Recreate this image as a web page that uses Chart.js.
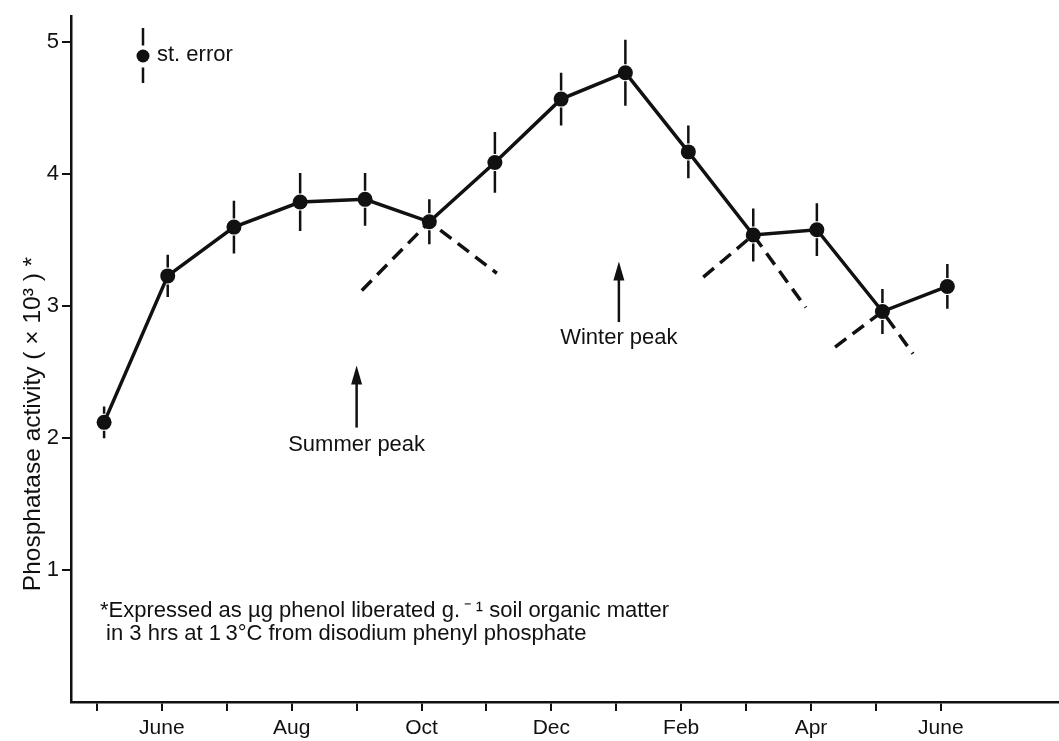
<!DOCTYPE html>
<html>
<head>
<meta charset="utf-8">
<script src="https://cdn.jsdelivr.net/npm/chart.js@4/dist/chart.umd.min.js"></script>
<style>
  html, body { margin: 0; padding: 0; background: #fff; overflow: hidden; }
  #wrap { width: 1059px; height: 741px; position: relative; }
  canvas { display: block; }
</style>
</head>
<body>
<div id="wrap"><canvas id="chart"></canvas></div>
<script>
// Month axis: 0 = May of the first year, 1 = June, ... 13 = June of the next year
const monthTickLabels = ['', 'June', '', 'Aug', '', 'Oct', '', 'Dec', '', 'Feb', '', 'Apr', '', 'June'];
const yTickValues = [1, 2, 3, 4, 5];

// Sampling dates (in months) and mean phosphatase activity with its standard error
const samplingMonth = [0.11, 1.09, 2.11, 3.13, 4.13, 5.12, 6.13, 7.15, 8.14, 9.11, 10.11, 11.09, 12.10, 13.10];
const activity      = [2.12, 3.23, 3.60, 3.79, 3.81, 3.64, 4.09, 4.57, 4.77, 4.17, 3.54, 3.58, 2.96, 3.15];
const stError       = [0.12, 0.16, 0.20, 0.22, 0.20, 0.17, 0.23, 0.20, 0.25, 0.20, 0.20, 0.20, 0.17, 0.17];

// Dashed trend breaks: index of the sample at the vertex, plus the two free ends
const breakVertex = [5, 10, 12];
const breakLeft   = [[4.08, 3.12], [9.34, 3.22], [11.37, 2.69]];
const breakRight  = [[6.16, 3.25], [10.92, 2.99], [12.57, 2.64]];

// Peak markers: label, month, arrow tail and head values, label value
const peakLabels = ['Summer peak', 'Winter peak'];
const peakMonth  = [4.00, 8.04];
const peakTail   = [2.08, 2.88];
const peakHead   = [2.55, 3.34];
const peakText   = [1.95, 2.76];

const yTitle = 'Phosphatase activity ( \u00d7 10\u00b3 ) *';
const footnote = [
  '*Expressed as \u00b5g phenol liberated g.\u2009\u207b\u2009\u00b9 soil organic matter',
  ' in 3 hrs at 1\u20093\u00b0C from disodium phenyl phosphate'
];

const INK = '#111';
const FONT = "'Liberation Sans', Arial, Helvetica, sans-serif";
const DOT = 7.5;

const seriesPoints = samplingMonth.map((m, i) => ({ x: m, y: activity[i] }));
const breakSets = breakVertex.map((v, k) => ({
  data: [
    { x: breakLeft[k][0], y: breakLeft[k][1] },
    { x: samplingMonth[v], y: activity[v] },
    { x: breakRight[k][0], y: breakRight[k][1] }
  ],
  borderColor: INK,
  borderWidth: 3.5,
  borderDash: [14, 8],
  pointRadius: 0,
  tension: 0,
  order: 2
}));

const overlay = {
  id: 'overlay',
  afterDatasetsDraw(chart) {
    const { ctx, chartArea: area, scales: { x, y } } = chart;
    ctx.save();
    ctx.strokeStyle = INK;
    ctx.fillStyle = INK;
    ctx.lineCap = 'butt';

    // standard error bars, split around each dot
    ctx.lineWidth = 2.5;
    samplingMonth.forEach((m, i) => {
      const px = x.getPixelForValue(m);
      const py = y.getPixelForValue(activity[i]);
      const top = y.getPixelForValue(activity[i] + stError[i]);
      const bot = y.getPixelForValue(activity[i] - stError[i]);
      ctx.beginPath();
      ctx.moveTo(px, top); ctx.lineTo(px, py - DOT - 1);
      ctx.moveTo(px, py + DOT + 1); ctx.lineTo(px, bot);
      ctx.stroke();
    });

    // peak arrows with their labels
    peakLabels.forEach((label, i) => {
      const px = x.getPixelForValue(peakMonth[i]);
      const tail = y.getPixelForValue(peakTail[i]);
      const head = y.getPixelForValue(peakHead[i]);
      ctx.lineWidth = 2.5;
      ctx.beginPath();
      ctx.moveTo(px, tail); ctx.lineTo(px, head + 12);
      ctx.stroke();
      ctx.beginPath();
      ctx.moveTo(px, head);
      ctx.lineTo(px - 5.5, head + 19);
      ctx.lineTo(px + 5.5, head + 19);
      ctx.closePath();
      ctx.fill();
      ctx.font = '22px ' + FONT;
      ctx.textAlign = 'center';
      ctx.textBaseline = 'middle';
      ctx.fillText(label, px, y.getPixelForValue(peakText[i]));
    });

    // key: dot with error bar and its caption
    const kx = area.left + 72, ky = area.top + 40;
    ctx.lineWidth = 2.5;
    ctx.beginPath();
    ctx.moveTo(kx, ky - 28); ctx.lineTo(kx, ky - DOT - 3);
    ctx.moveTo(kx, ky + DOT + 4); ctx.lineTo(kx, ky + 27);
    ctx.stroke();
    ctx.beginPath();
    ctx.arc(kx, ky, 6.5, 0, Math.PI * 2);
    ctx.fill();
    ctx.font = '22px ' + FONT;
    ctx.textAlign = 'left';
    ctx.textBaseline = 'middle';
    ctx.fillText('st. error', kx + 14, ky - 1);

    // footnote
    ctx.font = '22px ' + FONT;
    ctx.textBaseline = 'alphabetic';
    ctx.fillText(footnote[0], area.left + 29, area.bottom - 85);
    ctx.fillText(footnote[1], area.left + 29, area.bottom - 62);

    // vertical axis title
    ctx.save();
    ctx.translate(33, (area.top + area.bottom) / 2 + 65);
    ctx.rotate(-Math.PI / 2);
    ctx.font = '24.5px ' + FONT;
    ctx.textAlign = 'center';
    ctx.textBaseline = 'middle';
    ctx.fillText(yTitle, 0, 0);
    ctx.restore();

    ctx.restore();
  }
};

new Chart(document.getElementById('chart'), {
  type: 'line',
  data: {
    datasets: [
      {
        data: seriesPoints,
        borderColor: INK,
        borderWidth: 3.5,
        pointRadius: DOT,
        pointBackgroundColor: INK,
        pointBorderColor: INK,
        pointBorderWidth: 0,
        tension: 0,
        order: 1
      },
      ...breakSets
    ]
  },
  options: {
    responsive: true,
    maintainAspectRatio: false,
    animation: false,
    events: [],
    layout: { autoPadding: false, padding: { top: 16, left: 0, right: 0, bottom: 0 } },
    plugins: { legend: { display: false }, tooltip: { enabled: false }, title: { display: false } },
    scales: {
      x: {
        type: 'linear',
        min: -0.4,
        max: 14.82,
        afterFit(scale) {
          scale.height = 39;
          scale.paddingLeft = 0;
          scale.paddingRight = 0;
        },
        afterBuildTicks(scale) {
          scale.ticks = monthTickLabels.map((_, i) => ({ value: i }));
        },
        ticks: {
          autoSkip: false,
          maxRotation: 0,
          padding: 5,
          color: INK,
          font: { family: FONT, size: 21 },
          callback: (v) => monthTickLabels[v] ?? ''
        },
        grid: { drawOnChartArea: false, drawTicks: true, tickLength: 9, color: INK, lineWidth: 2 },
        border: { display: true, color: INK, width: 2.5 }
      },
      y: {
        type: 'linear',
        min: 0,
        max: 5.2,
        afterFit(scale) {
          scale.width = 71;
          scale.paddingTop = 0;
          scale.paddingBottom = 0;
        },
        afterBuildTicks(scale) {
          scale.ticks = yTickValues.map(v => ({ value: v }));
        },
        ticks: {
          padding: 3,
          color: INK,
          font: { family: FONT, size: 22 },
          callback: (v) => String(v)
        },
        grid: { drawOnChartArea: false, drawTicks: true, tickLength: 9, color: INK, lineWidth: 2 },
        border: { display: true, color: INK, width: 2.5 }
      }
    }
  },
  plugins: [overlay]
});
</script>
</body>
</html>
